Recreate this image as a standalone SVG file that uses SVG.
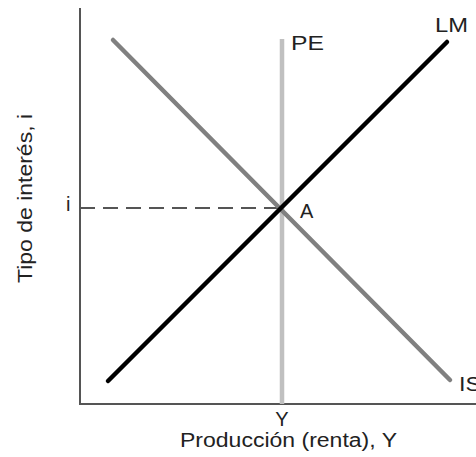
<svg xmlns="http://www.w3.org/2000/svg" width="476" height="457" viewBox="0 0 476 457">
<style>
text{font-family:"Liberation Sans",Arial,sans-serif;fill:#222;font-size:20px}
.axis{stroke:#555;stroke-width:2;fill:none}
.curve{fill:none;stroke-width:4.5;stroke-linecap:round}
</style>
<rect width="476" height="457" fill="#fff"/>
<g id="axes">
<line class="axis" x1="80" y1="8" x2="80" y2="404"/>
<line class="axis" x1="79" y1="404" x2="476" y2="404"/>
</g>
<g id="connectors">
<line x1="80" y1="208" x2="281" y2="208" stroke="#555" stroke-width="1.8" stroke-dasharray="15,8"/>
</g>
<g id="PE">
<line x1="282" y1="39" x2="282" y2="404" stroke="#c0c0c0" stroke-width="4.5"/>
<text x="291" y="50" textLength="33" lengthAdjust="spacingAndGlyphs">PE</text>
</g>
<g id="IS">
<line class="curve" x1="113" y1="40" x2="450" y2="380" stroke="#808080"/>
<text x="459" y="391" textLength="22" lengthAdjust="spacingAndGlyphs">IS</text>
</g>
<g id="LM">
<line class="curve" x1="108" y1="381" x2="447" y2="42" stroke="#000"/>
<text x="435" y="32" textLength="33" lengthAdjust="spacingAndGlyphs">LM</text>
</g>
<g id="A">
<text x="300" y="218">A</text>
</g>
<g id="labels">
<text x="66" y="211">i</text>
<text x="282" y="426" text-anchor="middle">Y</text>
<text x="180" y="447" textLength="217" lengthAdjust="spacingAndGlyphs">Producción (renta), Y</text>
<text transform="translate(32,283) rotate(-90)" textLength="169" lengthAdjust="spacingAndGlyphs">Tipo de interés, i</text>
</g>
</svg>
